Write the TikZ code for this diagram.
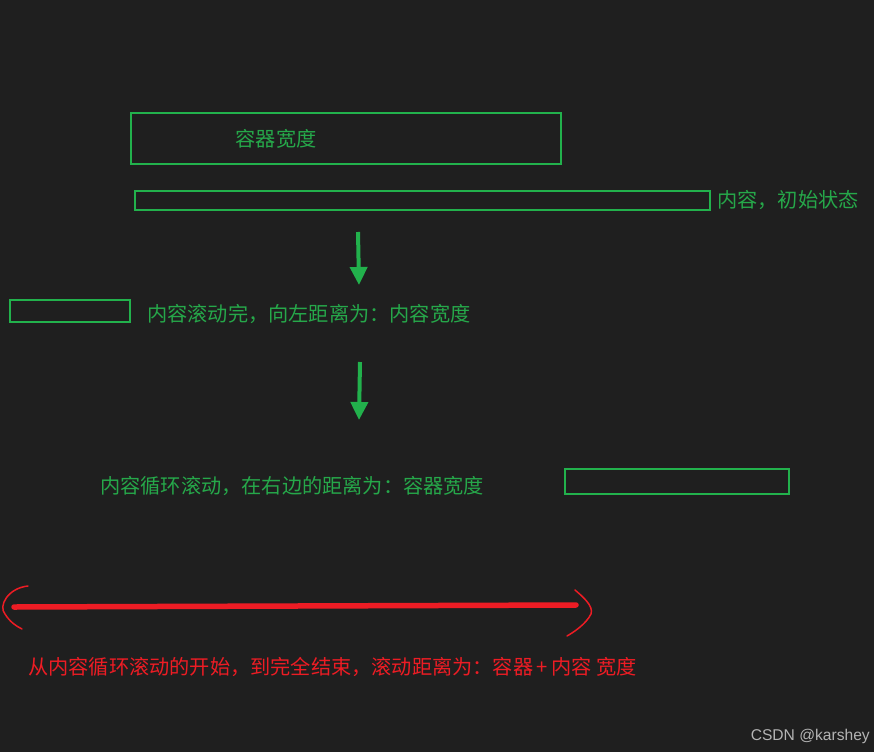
\documentclass[tikz,border=0pt]{standalone}
\usepackage{fontspec}
\usepackage{tikz}
\usetikzlibrary{arrows.meta, positioning}
\newfontfamily\cjk{Noto Sans CJK SC}
\newfontfamily\wmfont{Liberation Sans}
\definecolor{bgdark}{HTML}{1F1F1F}
\definecolor{boxgreen}{HTML}{22B14C}
\definecolor{txtgreen}{HTML}{26A84A}
\definecolor{mkred}{HTML}{ED1C24}
\definecolor{wmgray}{HTML}{B4B4B4}

\begin{document}
\begin{tikzpicture}[
    x=1pt, y=-1pt,
    strip/.style={draw=boxgreen, line width=2pt},
    label/.style={font=\cjk\fontsize{20.2pt}{24pt}\selectfont, text=txtgreen, inner sep=0pt},
    redlabel/.style={font=\cjk\fontsize{20.2pt}{24pt}\selectfont, text=mkred, inner sep=0pt},
    downarrow/.style={draw=boxgreen, line width=4pt, -{Triangle[length=18pt, width=17pt]}},
]
    % background and page size
    \fill[bgdark] (0,0) rectangle (874,752);
    \useasboundingbox (0,0) rectangle (874,752);

    % container
    \draw[strip] (131,113) rectangle (561,164);
    \node[label] (container) at (276,139) {容器宽度};

    % content, initial state
    \draw[strip] (135,191) rectangle (710,210);
    \node[label, anchor=west] (initial) at (717,200) {内容，初始状态};

    \coordinate (a1s) at (358,232);
    \coordinate (a1e) at (359,285);
    \draw[downarrow] (a1s) -- (a1e);

    % content scrolled out to the left
    \draw[strip] (10,300) rectangle (130,322);
    \node[label, anchor=west] (scrolled) at (147,314) {内容滚动完，向左距离为：内容宽度};

    \coordinate (a2s) at (360,362);
    \coordinate (a2e) at (359,420);
    \draw[downarrow] (a2s) -- (a2e);

    % content looping in from the right
    \node[label, anchor=west] (looping) at (100,486) {内容循环滚动，在右边的距离为：容器宽度};
    \draw[strip] (565,469) rectangle (789,494);

    % total distance
    \coordinate (rl) at (14,607);
    \coordinate (rr) at (576,605);
    \draw[mkred, line width=5.5pt, line cap=round] (rl) -- (rr);
    \draw[mkred, line width=1.5pt, line cap=round]
        (28,586) .. controls (8,588) and (-2,606) .. (5,614)
        .. controls (10,622) and (16,626) .. (22,629);
    \draw[mkred, line width=1.5pt, line cap=round]
        (575,590) .. controls (582,596) and (594,606) .. (591,614)
        .. controls (586,624) and (574,632) .. (567,636);
    \node[redlabel, anchor=west] (total) at (28,667) {从内容循环滚动的开始，到完全结束，滚动距离为：容器\,+\,内容 宽度};

    % watermark
    \node[font=\wmfont\fontsize{15.6pt}{18pt}\selectfont, text=wmgray, anchor=east, inner sep=0pt] (mark) at (870,736) {CSDN @karshey};
\end{tikzpicture}
\end{document}
